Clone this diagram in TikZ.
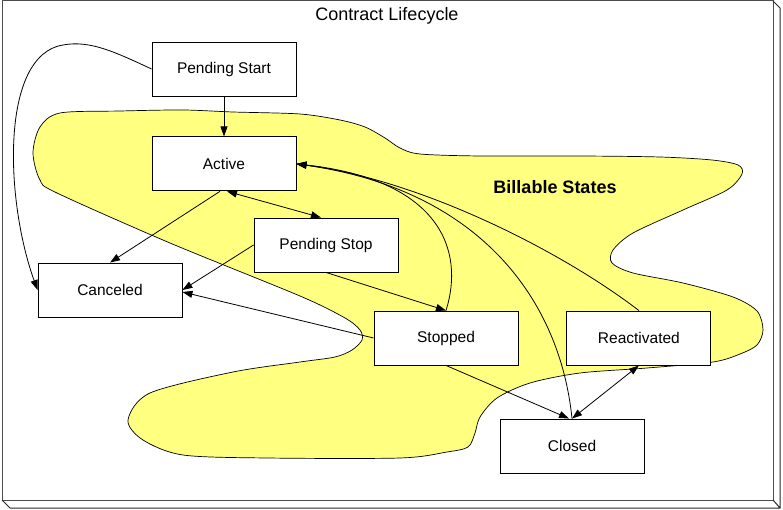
\documentclass[tikz,border=0pt]{standalone}
\usepackage{fontspec}
\setmainfont{Liberation Sans}
\usetikzlibrary{positioning, arrows.meta}
\definecolor{billable}{RGB}{255,255,128}

\begin{document}
\begin{tikzpicture}[x=1pt, y=-1pt, >={Triangle[length=10pt,width=7pt]},
  st/.style={draw, fill=white, line width=0.9pt, inner sep=0pt,
             minimum width=144pt, minimum height=54pt,
             font=\fontsize{15.5}{18}\selectfont},
  lbl/.style={font=\fontsize{18}{21}\selectfont},
  s/.style={->, line width=0.8pt},
  b/.style={<->, line width=0.8pt}]
\useasboundingbox (0,0) rectangle (783,510);
% Frame with its depth edges.
\draw[black!70, line width=1pt] (2,1) rectangle (773,500);
\draw[black!85, line width=1pt] (773,1) -- (780,8) -- (780,508) -- (10,508) -- (2,500)
  (780,508) -- (773,500);
\node[lbl] (title) at (387,16) {Contract Lifecycle};
% Billable region.
\draw[fill=billable, line width=0.7pt] plot[smooth cycle, tension=0.5] coordinates {
  (60,113) (120,111) (183,110) (233,112) (300,114) (340,120) (365,127) (385,138)
  (400,148) (420,154) (480,156) (580,156) (660,157) (712,160) (738,165) (742,174)
  (727,190) (683,210) (633,233) (613,250) (612,263) (633,273) (683,283) (733,297)
  (757,311) (763,330) (757,345) (740,354) (713,362) (647,368) (580,373) (530,383)
  (497,398) (480,417) (475,433) (468,447) (447,452) (400,458) (267,458) (183,455)
  (143,440) (128,420) (150,393) (233,372) (300,362) (335,357) (352,350) (362,340)
  (360,330) (345,318) (300,296) (170,243) (57,193) (40,180) (33,153) (40,127)};
\node[lbl, font=\fontsize{18}{21}\selectfont\bfseries] (billtext) at (555,187) {Billable States};
% States.
\node[st] (pstart) at (224,69) {Pending Start};
\node[st, below=40pt of pstart] (active) {Active};
\node[st] (pstop) at (326,245) {Pending Stop};
\node[st] (canceled) at (110,290) {Canceled};
\node[st] (stopped) at (446,338) {Stopped};
\node[st, right=48pt of stopped] (react) {Reactivated};
\node[st] (closed) at (572,446) {Closed};
% Transitions.
\draw[s] (pstart) -- (active);
\draw[s] (pstart.west) .. controls (115,52) and (90,40) .. (63,45)
  .. controls (0,55) and (5,200) .. (canceled.west);
\draw[s] ([xshift=-4pt]active.south) -- (canceled.north);
\draw[b] ([xshift=3pt]active.south) -- ([xshift=-5pt]pstop.north);
\draw[s] (pstop.west) -- (canceled.east);
\draw[s] (stopped.west) -- ([yshift=-2pt]canceled.east);
\draw[s] (pstop.south) -- (stopped.north);
\draw[s] (stopped.north) .. controls (465,250) and (440,180) .. (active.east);
\draw[s] (closed.north) .. controls (560,300) and (480,190) .. (active.east);
\draw[s] (react.north) .. controls (560,250) and (420,180) .. (active.east);
\draw[s] (stopped.south) -- ([xshift=-3pt]closed.north);
\draw[b] (react.south) -- (closed.north);
\end{tikzpicture}
\end{document}
